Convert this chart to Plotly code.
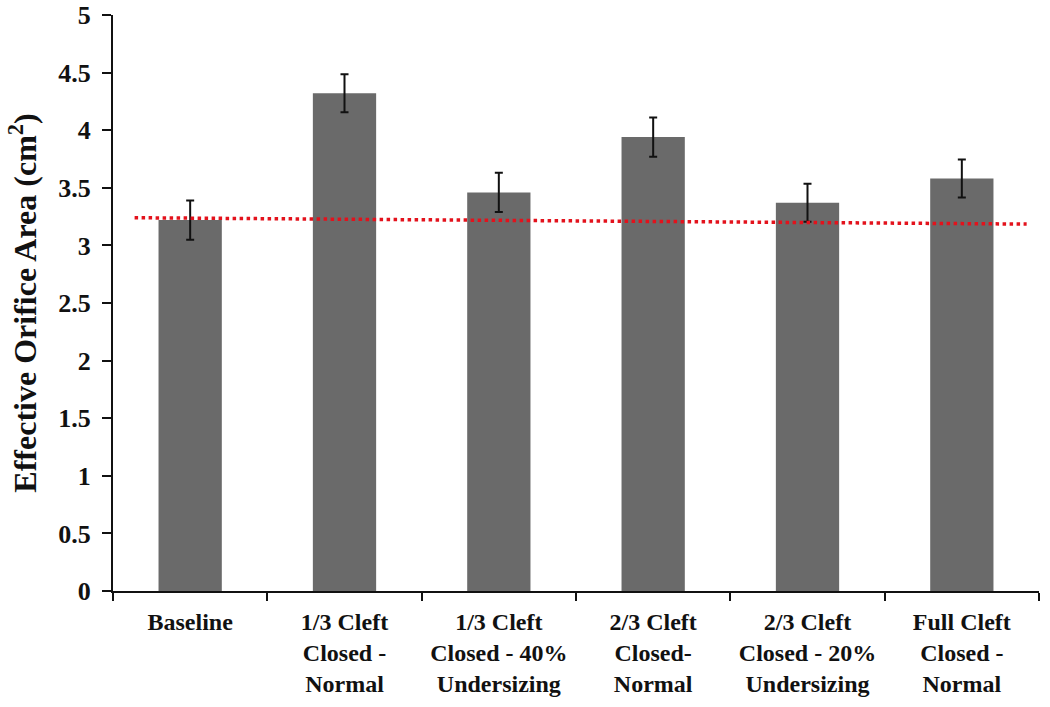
import plotly.graph_objects as go

categories = [
    "Baseline",
    "1/3 Cleft<br>Closed -<br>Normal",
    "1/3 Cleft<br>Closed - 40%<br>Undersizing",
    "2/3 Cleft<br>Closed-<br>Normal",
    "2/3 Cleft<br>Closed - 20%<br>Undersizing",
    "Full Cleft<br>Closed -<br>Normal",
]
values = [3.22, 4.32, 3.46, 3.94, 3.37, 3.58]
errors = [0.17, 0.165, 0.17, 0.17, 0.165, 0.165]

# red dotted reference (trend) line, in category-index units
trend_x = [-0.36, 5.42]
trend_y = [3.24, 3.185]

y_ticks = [0, 0.5, 1, 1.5, 2, 2.5, 3, 3.5, 4, 4.5, 5]

FONT = "Liberation Serif"

fig = go.Figure()
fig.add_trace(go.Bar(
    x=categories, y=values,
    marker=dict(color="#6a6a6a", line=dict(width=0)),
    error_y=dict(type="data", array=errors, visible=True,
                 color="#111111", thickness=2, width=4),
    showlegend=False,
))
fig.add_trace(go.Scatter(
    x=trend_x, y=trend_y, xaxis="x2", mode="lines",
    line=dict(color="#e3121c", width=3.5, dash="dot"),
    showlegend=False, hoverinfo="skip",
))

fig.update_layout(
    width=1050, height=707,
    margin=dict(l=113, r=11, t=15, b=116),
    paper_bgcolor="white", plot_bgcolor="white",
    bargap=0.59,
    font=dict(family=FONT, color="#111111"),
    xaxis=dict(
        type="category", range=[-0.5, 5.5], automargin=False,
        showline=True, linecolor="#111111", linewidth=2,
        ticks="outside", tickson="boundaries", ticklen=8, tickwidth=2,
        tickcolor="#111111", ticklabelstandoff=8,
        tickfont=dict(family=FONT, size=24, color="#111111", weight="bold"),
        showgrid=False, zeroline=False,
    ),
    xaxis2=dict(
        overlaying="x", range=[-0.5, 5.5], visible=False,
    ),
    yaxis=dict(
        range=[0, 5], tickvals=y_ticks, automargin=False,
        showline=True, linecolor="#111111", linewidth=2,
        ticks="outside", ticklen=9, tickwidth=2, tickcolor="#111111",
        ticklabelstandoff=6,
        tickfont=dict(family=FONT, size=26, color="#111111", weight="bold"),
        showgrid=False, zeroline=False,
        title=dict(text="Effective Orifice Area (cm<sup>2</sup>)",
                   font=dict(family=FONT, size=32, color="#111111", weight="bold"),
                   standoff=12),
    ),
)

# remove the default 8px page margin so the 1050x707 figure fills the window exactly
fig.write_html(
    "out.html",
    config={"displayModeBar": False},
    post_script="document.body.style.margin='0px';",
)
